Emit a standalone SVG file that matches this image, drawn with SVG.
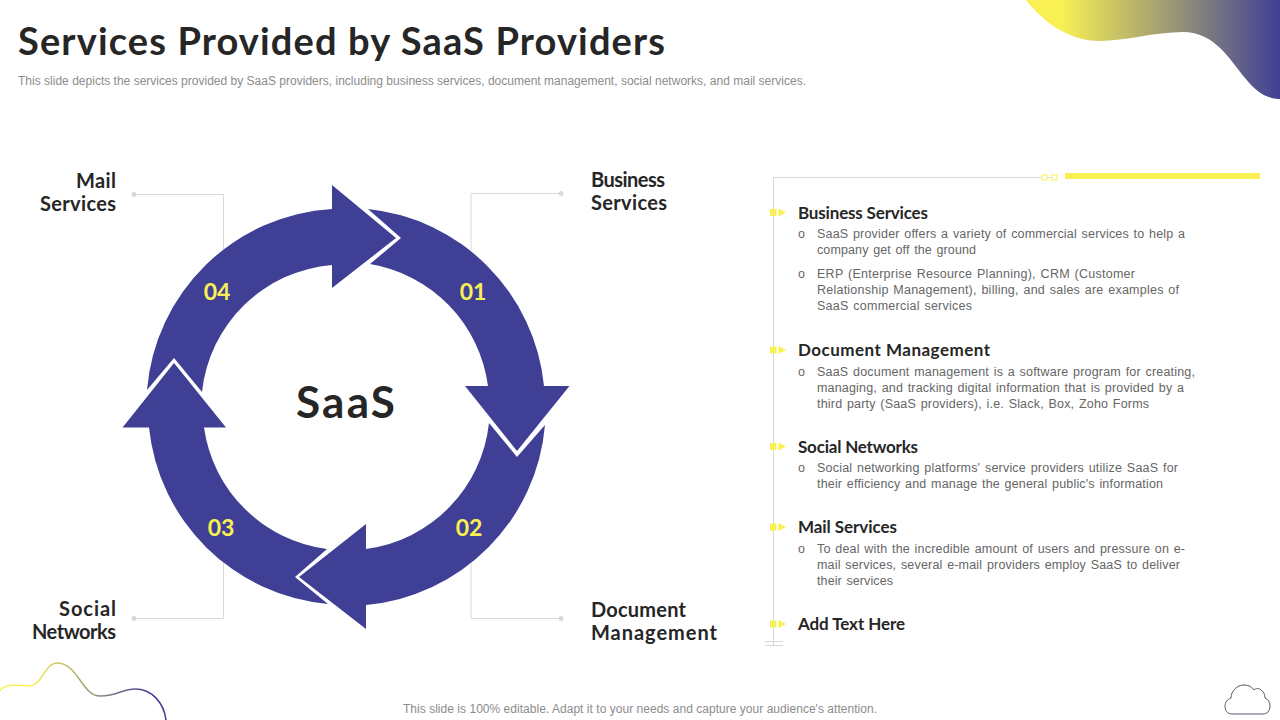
<svg xmlns="http://www.w3.org/2000/svg" width="1280" height="720" viewBox="0 0 1280 720">
<style>
.h{font-family:"Lato","Liberation Sans",sans-serif;font-weight:700;fill:#262626}
.t{font-size:38px}
.l{font-size:20px}
.s{font-size:17px}
.n{font-family:"Lato","Liberation Sans",sans-serif;font-weight:700;font-size:23px;fill:#f9f154;text-anchor:middle}
.d{font-family:"Liberation Sans",Arial,sans-serif;font-size:12.500px;fill:#666666}
.j{word-spacing:1px}
.g{font-family:"Liberation Sans",Arial,sans-serif;font-size:12px;fill:#8c8c8c}
.a{fill:#3f4095}
.c{fill:none;stroke:#d9d9d9;stroke-width:1}
.dot{fill:#d9d9d9}
.y{fill:#f9f154}
</style>
<defs>
<linearGradient id="b" gradientUnits="userSpaceOnUse" x1="1060" y1="0" x2="1280" y2="0"><stop offset="0" stop-color="#f9f154"/><stop offset="1" stop-color="#3f4095"/></linearGradient>
<linearGradient id="w" gradientUnits="userSpaceOnUse" x1="30" y1="0" x2="150" y2="0"><stop offset="0" stop-color="#f9f154"/><stop offset="1" stop-color="#3f4095"/></linearGradient>
<g id="bu"><rect x="770" y="-3.500" width="6.500" height="7" class="y"/><path d="M778.500 -4L786 0L778.500 4Z" class="y"/></g>
</defs>
<path d="M1026 0C1045 24 1070 41 1100 41C1125 41 1155 32 1183 32C1215 32 1230 60 1245 78C1255 90 1265 99 1280 99L1280 0Z" fill="url(#b)"/>
<path d="M0 691C5 682 20 686 30 686C42 685 45 663 57 663C78 663 82 696 100 696C118 696 122 689 135 689C152 689 164 703 166 720" fill="none" stroke="url(#w)" stroke-width="1.500"/>
<text class="h t" x="18" y="55" textLength="647">Services Provided by SaaS Providers</text>
<text class="g" x="18" y="85" textLength="788">This slide depicts the services provided by SaaS providers, including business services, document management, social networks, and mail services.</text>
<g id="connectors">
<path class="c" d="M134 194.500H223.500V252"/><circle class="dot" cx="134" cy="194.500" r="2.500"/>
<path class="c" d="M561 193.500H471V250"/><circle class="dot" cx="561" cy="193.500" r="2.500"/>
<path class="c" d="M561 618.500H471V560"/><circle class="dot" cx="561" cy="618.500" r="2.500"/>
<path class="c" d="M134 618.500H223.500V560"/><circle class="dot" cx="134" cy="618.500" r="2.500"/>
</g>
<g id="arrow-01"><path class="a" d="M368 209A197.500 197.500 0 0 1 544 386H569.500L517 451L465 386H488A142.500 142.500 0 0 0 370 264L401 238Z"/><text class="n" x="473" y="300">01</text></g>
<g id="arrow-02"><path class="a" d="M545 425A197.500 197.500 0 0 1 366 605V629L299 577L366 524V549A142.500 142.500 0 0 0 489 423L517 457Z"/><text class="n" x="469" y="536">02</text></g>
<g id="arrow-03"><path class="a" d="M328 604A197.500 197.500 0 0 1 149 427.500H122.500L174 363L226 427.500H204A142.500 142.500 0 0 0 327 549L295 577Z"/><text class="n" x="221" y="536">03</text></g>
<g id="arrow-04"><path class="a" d="M147 390A197.500 197.500 0 0 1 332 209V185L396 238L332 288V265A142.500 142.500 0 0 0 202 392L174 358Z"/><text class="n" x="217" y="300">04</text></g>
<g id="center"><text class="h" x="296" y="418" font-size="44" textLength="99">SaaS</text></g>
<g id="label-mail"><text class="h l" x="76" y="188" textLength="40">Mail</text><text class="h l" x="40" y="211" textLength="76">Services</text></g>
<g id="label-business"><text class="h l" x="591" y="187" textLength="74">Business</text><text class="h l" x="591" y="210" textLength="76">Services</text></g>
<g id="label-document"><text class="h l" x="591" y="617" textLength="95">Document</text><text class="h l" x="591" y="640" textLength="126">Management</text></g>
<g id="label-social"><text class="h l" x="59" y="616" textLength="57">Social</text><text class="h l" x="32" y="639" textLength="84">Networks</text></g>
<g id="panel">
<path class="c" d="M773 177.500H1042M1047 177.500H1052M773.500 177V645M765 641.500H783M765 645.500H783"/>
<rect x="1042" y="175" width="5" height="5" fill="none" stroke="#f9f154"/><rect x="1052" y="175" width="5" height="5" fill="none" stroke="#f9f154"/>
<rect class="y" x="1065" y="173" width="195" height="6"/>
<use href="#bu" y="212.500"/><use href="#bu" y="350"/><use href="#bu" y="446.500"/><use href="#bu" y="527"/><use href="#bu" y="624"/>
</g>
<g id="item-business">
<text class="h s" x="798" y="219" textLength="130">Business Services</text>
<text class="d" x="798" y="238">o</text><text class="d j" x="817" y="238" textLength="368">SaaS provider offers a variety of commercial services to help a</text>
<text class="d j" x="817" y="254" textLength="159">company get off the ground</text>
<text class="d" x="798" y="278">o</text><text class="d j" x="817" y="278" textLength="318">ERP (Enterprise Resource Planning), CRM (Customer</text>
<text class="d j" x="817" y="294" textLength="362">Relationship Management), billing, and sales are examples of</text>
<text class="d j" x="817" y="310" textLength="155">SaaS commercial services</text>
</g>
<g id="item-document">
<text class="h s" x="798" y="356" textLength="192">Document Management</text>
<text class="d" x="798" y="376">o</text><text class="d j" x="817" y="376" textLength="378">SaaS document management is a software program for creating,</text>
<text class="d j" x="817" y="392" textLength="367">managing, and tracking digital information that is provided by a</text>
<text class="d j" x="817" y="408" textLength="332">third party (SaaS providers), i.e. Slack, Box, Zoho Forms</text>
</g>
<g id="item-social">
<text class="h s" x="798" y="453" textLength="120">Social Networks</text>
<text class="d" x="798" y="472">o</text><text class="d j" x="817" y="472" textLength="361">Social networking platforms' service providers utilize SaaS for</text>
<text class="d j" x="817" y="488" textLength="346">their efficiency and manage the general public's information</text>
</g>
<g id="item-mail">
<text class="h s" x="798" y="533" textLength="99">Mail Services</text>
<text class="d" x="798" y="553">o</text><text class="d j" x="817" y="553" textLength="368">To deal with the incredible amount of users and pressure on e-</text>
<text class="d j" x="817" y="569" textLength="363">mail services, several e-mail providers employ SaaS to deliver</text>
<text class="d j" x="817" y="585" textLength="76">their services</text>
</g>
<g id="item-add"><text class="h s" x="798" y="630" textLength="107">Add Text Here</text></g>
<text class="g" x="403" y="713" textLength="474">This slide is 100% editable. Adapt it to your needs and capture your audience's attention.</text>
<path d="M1232 714C1227 714 1225 710 1225 706C1225 702 1228 699 1231 698C1231 691 1237 685 1244 685C1249 685 1252 687 1254 690C1256 688 1259 688 1261 690C1264 692 1265 695 1265 698C1268 699 1270 702 1270 706C1270 711 1267 714 1263 714Z" fill="none" stroke="#5a5a6e" stroke-width="1"/>
</svg>
